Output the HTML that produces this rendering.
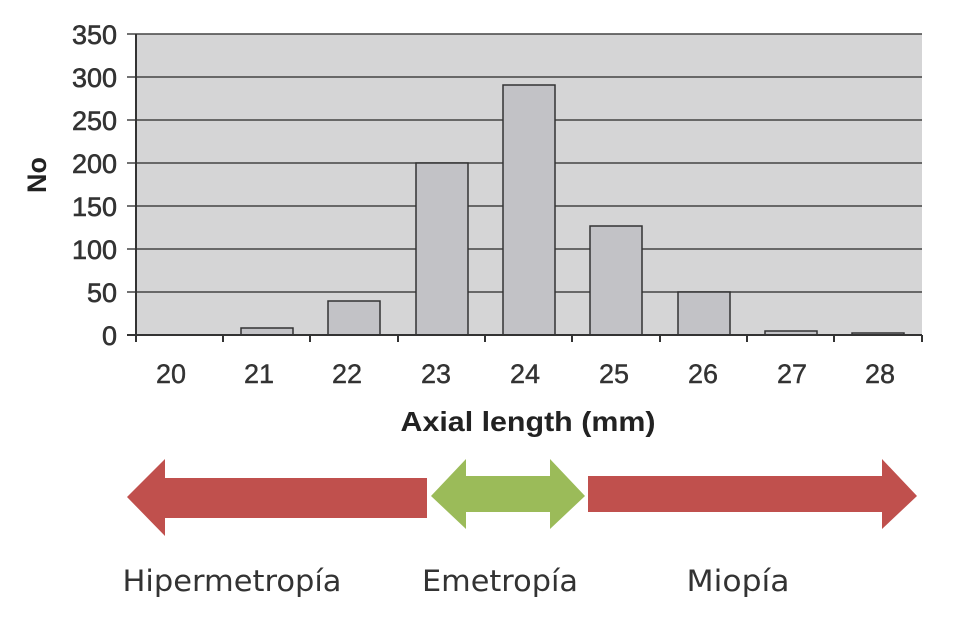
<!DOCTYPE html>
<html><head><meta charset="utf-8"><style>body{margin:0;background:#fff}</style></head><body>
<svg width="955" height="619" xmlns="http://www.w3.org/2000/svg" font-family="Liberation Sans, sans-serif">
<rect x="136" y="34" width="786" height="301" fill="#d5d5d6"/>
<g stroke="#444" stroke-width="1.5">
<line x1="127" y1="34" x2="922" y2="34"/><line x1="127" y1="77" x2="922" y2="77"/>
<line x1="127" y1="120" x2="922" y2="120"/><line x1="127" y1="163" x2="922" y2="163"/>
<line x1="127" y1="206" x2="922" y2="206"/><line x1="127" y1="249" x2="922" y2="249"/>
<line x1="127" y1="292" x2="922" y2="292"/>
</g>
<g fill="#c2c2c6" stroke="#333" stroke-width="1.5">
<rect x="241" y="328" width="52" height="7"/>
<rect x="328" y="301" width="52" height="34"/>
<rect x="416" y="163" width="52" height="172"/>
<rect x="503" y="85" width="52" height="250"/>
<rect x="590" y="226" width="52" height="109"/>
<rect x="678" y="292" width="52" height="43"/>
<rect x="765" y="331" width="52" height="4"/>
<rect x="852" y="333" width="52" height="2"/>
</g>
<g stroke="#333" stroke-width="2">
<line x1="136" y1="34" x2="136" y2="342"/><line x1="127" y1="335" x2="922" y2="335"/>
<line x1="223" y1="335" x2="223" y2="342"/><line x1="310" y1="335" x2="310" y2="342"/>
<line x1="398" y1="335" x2="398" y2="342"/><line x1="485" y1="335" x2="485" y2="342"/>
<line x1="572" y1="335" x2="572" y2="342"/><line x1="660" y1="335" x2="660" y2="342"/>
<line x1="747" y1="335" x2="747" y2="342"/><line x1="834" y1="335" x2="834" y2="342"/>
<line x1="922" y1="335" x2="922" y2="342"/>
</g>
<g font-size="27" fill="#333" stroke="#333" stroke-width="0.6" text-anchor="end">
<text x="117" y="44">350</text><text x="117" y="87">300</text><text x="117" y="130">250</text>
<text x="117" y="173">200</text><text x="117" y="216">150</text><text x="117" y="259">100</text>
<text x="117" y="302">50</text><text x="117" y="345">0</text>
</g>
<g font-size="27" fill="#333" stroke="#333" stroke-width="0.4" text-anchor="middle">
<text x="171" y="383">20</text><text x="259" y="383">21</text><text x="347" y="383">22</text>
<text x="436" y="383">23</text><text x="525" y="383">24</text><text x="614" y="383">25</text>
<text x="703" y="383">26</text><text x="792" y="383">27</text><text x="880" y="383">28</text>
</g>
<text x="528" y="431" font-size="28" font-weight="bold" fill="#222" text-anchor="middle" textLength="255" lengthAdjust="spacingAndGlyphs">Axial length (mm)</text>
<text transform="translate(46,175) rotate(-90)" font-size="27" font-weight="bold" fill="#222" text-anchor="middle">No</text>
<polygon points="127,497 165,459 165,478 427,478 427,518 165,518 165,536" fill="#c0504d"/>
<polygon points="431,496 466,459 466,476 550,476 550,459 585,496 550,529 550,512 466,512 466,529" fill="#9bbb59"/>
<polygon points="588,476 882,476 882,459 917,496 882,529 882,512 588,512" fill="#c0504d"/>
<g font-size="29" fill="#333" text-anchor="middle" font-family="DejaVu Sans, sans-serif">
<text x="232" y="591" textLength="219" lengthAdjust="spacingAndGlyphs">Hipermetropía</text><text x="500" y="591" textLength="156" lengthAdjust="spacingAndGlyphs">Emetropía</text><text x="738" y="591" textLength="103" lengthAdjust="spacingAndGlyphs">Miopía</text>
</g>
</svg>
</body></html>
